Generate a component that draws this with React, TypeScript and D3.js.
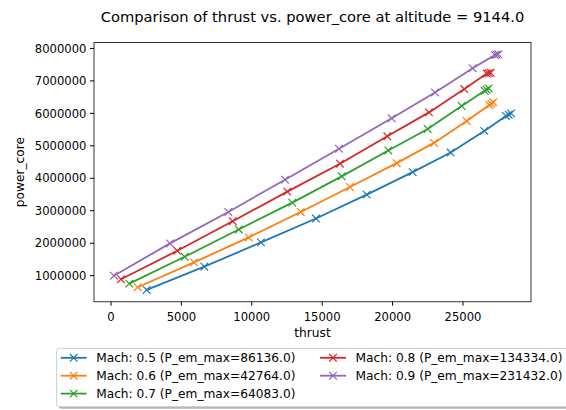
import React from "react";
import * as d3 from "d3";

const title = "Comparison of thrust vs. power_core at altitude = 9144.0";
const xLabel = "thrust";
const yLabel = "power_core";

const seriesNames = [
  "Mach: 0.5 (P_em_max=86136.0)",
  "Mach: 0.6 (P_em_max=42764.0)",
  "Mach: 0.7 (P_em_max=64083.0)",
  "Mach: 0.8 (P_em_max=134334.0)",
  "Mach: 0.9 (P_em_max=231432.0)",
];
const colors = ["#1f77b4", "#ff7f0e", "#2ca02c", "#d62728", "#9467bd"];

const thrust05 = [2535, 6626, 10653, 14560, 18161, 21428, 24126, 26513, 28050, 28250, 28420];
const power05 = [561000, 1276000, 2025000, 2761000, 3497000, 4190000, 4794000, 5460000, 5920000, 5960000, 6000000];
const thrust06 = [1896, 5895, 9780, 13473, 16974, 20290, 22940, 25262, 26868, 27010, 27152];
const power06 = [644000, 1410000, 2178000, 2963000, 3730000, 4466000, 5090000, 5767000, 6258000, 6300000, 6340000];
const thrust07 = [1300, 5234, 9070, 12876, 16385, 19695, 22493, 24905, 26540, 26680, 26822];
const power07 = [755000, 1583000, 2423000, 3250000, 4060000, 4856000, 5520000, 6227000, 6696000, 6730000, 6767000];
const thrust08 = [710, 4710, 8643, 12521, 16264, 19624, 22585, 25095, 26683, 26820, 26967];
const power08 = [890000, 1767000, 2678000, 3589000, 4448000, 5294000, 6030000, 6748000, 7227000, 7240000, 7250000];
const thrust09 = [204, 4190, 8331, 12358, 16193, 19936, 23011, 25688, 27272, 27390, 27507];
const power09 = [1000000, 1994000, 2963000, 3957000, 4908000, 5847000, 6644000, 7390000, 7800000, 7810000, 7820000];

const thrustSeries = [thrust05, thrust06, thrust07, thrust08, thrust09];
const powerSeries = [power05, power06, power07, power08, power09];

const xTicks = [0, 5000, 10000, 15000, 20000, 25000];
const yTicks = [1000000, 2000000, 3000000, 4000000, 5000000, 6000000, 7000000, 8000000];

const W = 566;
const H = 410;
const plot = { left: 94, right: 531, top: 42.5, bottom: 301.7 };
const FONT = "DejaVu Sans, sans-serif";

function padded(vals: number[]): [number, number] {
  const lo = d3.min(vals) as number;
  const hi = d3.max(vals) as number;
  const p = (hi - lo) * 0.05;
  return [lo - p, hi + p];
}

function XMarker({ x, y, color, r = 3.8 }: { x: number; y: number; color: string; r?: number }) {
  return (
    <path
      d={`M${x - r},${y - r}L${x + r},${y + r}M${x - r},${y + r}L${x + r},${y - r}`}
      stroke={color}
      strokeWidth={1.2}
      fill="none"
    />
  );
}

export default function App() {
  const allX = thrustSeries.flat();
  const allY = powerSeries.flat();
  const x = d3.scaleLinear().domain(padded(allX)).range([plot.left, plot.right]);
  const y = d3.scaleLinear().domain(padded(allY)).range([plot.bottom, plot.top]);
  const line = d3
    .line<[number, number]>()
    .x((d) => x(d[0]))
    .y((d) => y(d[1]));

  const legendItems = seriesNames.map((name, i) => {
    const col = i < 3 ? 0 : 1;
    const row = i < 3 ? i : i - 3;
    return { name, i, hx: col === 0 ? 60.7 : 320, ty: 357.8 + row * 17.9 };
  });

  return (
    <svg width={W} height={H} style={{ position: "absolute", left: 0, top: 0, background: "#fff" }} fontFamily={FONT}>
      <rect x={0} y={0} width={W} height={H} fill="#fff" />
      <text x={(plot.left + plot.right) / 2} y={21.5} textAnchor="middle" fontSize={14.7} fill="#000">
        {title}
      </text>
      {seriesNames.map((_, i) => {
        const pts: [number, number][] = thrustSeries[i].map((t, j) => [t, powerSeries[i][j]]);
        return (
          <g key={i}>
            <path d={line(pts) || ""} stroke={colors[i]} strokeWidth={1.8} fill="none" />
            {pts.map((p, j) => (
              <XMarker key={j} x={x(p[0])} y={y(p[1])} color={colors[i]} />
            ))}
          </g>
        );
      })}
      <rect
        x={plot.left}
        y={plot.top}
        width={plot.right - plot.left}
        height={plot.bottom - plot.top}
        fill="none"
        stroke="#333"
        strokeWidth={1}
      />
      {xTicks.map((t) => (
        <g key={t}>
          <line x1={x(t)} x2={x(t)} y1={plot.bottom} y2={plot.bottom + 4} stroke="#000" strokeWidth={1} />
          <text x={x(t)} y={321.3} textAnchor="middle" fontSize={11.6} fill="#000">
            {t}
          </text>
        </g>
      ))}
      {yTicks.map((t) => (
        <g key={t}>
          <line x1={plot.left - 4} x2={plot.left} y1={y(t)} y2={y(t)} stroke="#000" strokeWidth={1} />
          <text x={plot.left - 7.5} y={y(t) + 4.2} textAnchor="end" fontSize={11.6} fill="#000">
            {t}
          </text>
        </g>
      ))}
      <text x={(plot.left + plot.right) / 2} y={336.5} textAnchor="middle" fontSize={12.2} fill="#000">
        {xLabel}
      </text>
      <text
        transform={`translate(${23.5},${(plot.top + plot.bottom) / 2}) rotate(-90)`}
        textAnchor="middle"
        fontSize={12.2}
        fill="#000"
      >
        {yLabel}
      </text>
      <rect x={58.7} y={350.3} width={520} height={58.4} rx={3} fill="#000" opacity={0.3} />
      <rect x={56.7} y={348.3} width={520} height={58.4} rx={3} fill="#fff" stroke="#ccc" strokeWidth={1} />
      {legendItems.map((it) => (
        <g key={it.i}>
          <line x1={it.hx} x2={it.hx + 26} y1={it.ty} y2={it.ty} stroke={colors[it.i]} strokeWidth={1.8} />
          <XMarker x={it.hx + 13} y={it.ty} color={colors[it.i]} />
          <text x={it.hx + 35.5} y={it.ty + 4.4} fontSize={12.2} fill="#000">
            {it.name}
          </text>
        </g>
      ))}
    </svg>
  );
}
